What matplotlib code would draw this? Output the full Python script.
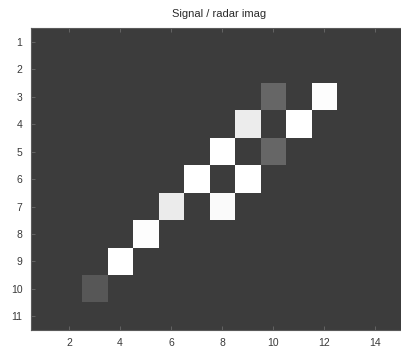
import numpy as np
import matplotlib
matplotlib.use("Agg")
import matplotlib.pyplot as plt

# image size (rows x cols) and the lit cells: row, col, grey level (0..1)
n_rows = 11
n_cols = 15
background = 0.24
rows = [3, 3, 4, 4, 5, 5, 6, 6, 7, 7, 8, 9, 10]
cols = [10, 12, 9, 11, 8, 10, 7, 9, 6, 8, 5, 4, 3]
levels = [0.40, 0.99, 0.925, 1.0, 1.0, 0.40, 1.0, 1.0, 0.92, 0.98, 0.99, 1.0, 0.34]
xticks = [2, 4, 6, 8, 10, 12, 14]
yticks = list(range(1, 12))

img = np.full((n_rows, n_cols), background)
for r, c, v in zip(rows, cols, levels):
    img[r - 1, c - 1] = v

plt.rcParams['font.family'] = ['Liberation Sans', 'DejaVu Sans']
fig = plt.figure(figsize=(4.02, 3.47), dpi=100)
ax = fig.add_axes([30.75 / 402, 17 / 347, 382.5 / 402, 301.7 / 347])
ax.imshow(img, cmap='gray', vmin=0, vmax=1, aspect='auto',
          extent=[0.5, n_cols + 0.5, n_rows + 0.5, 0.5], interpolation='nearest')
ax.set_xlim(0.5, n_cols + 0.5)
ax.set_ylim(n_rows + 0.5, 0.5)
ax.set_xticks(xticks)
ax.set_yticks(yticks)
ax.tick_params(direction='in', length=3, width=0.6, color='#6a6a6a',
               labelsize=7.5, labelcolor='#3a3a3a', top=True, right=True, pad=6)
for s in ax.spines.values():
    s.set_color('#5a5a5a')
    s.set_linewidth(0.8)
ax.set_title('Signal / radar imag', fontsize=8, color='#2a2a2a', pad=8, x=0.492)

fig.savefig('out.png', dpi=100)
